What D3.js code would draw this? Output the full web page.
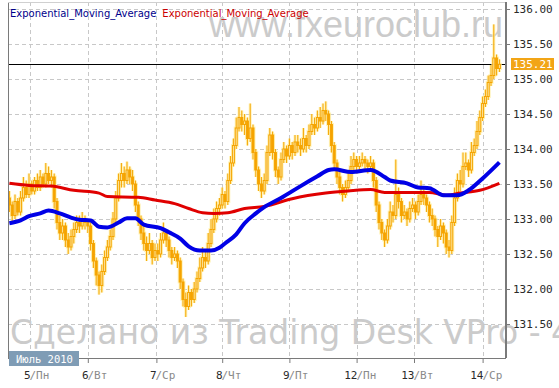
<!DOCTYPE html>
<html>
<head>
<meta charset="utf-8">
<script src="https://cdn.jsdelivr.net/npm/d3@7"></script>
<style>
  body { margin: 0; background: #fff; }
  svg { display: block; }
</style>
</head>
<body>
<svg id="chart" width="559" height="388"></svg>
<script>
// hourly candles, July 2010
const firstOpen = 133.30
const closes = [
  133.20, 133.05, 133.25, 133.10, 133.30, 133.45, 133.35, 133.50, 133.40, 133.55,
  133.45, 133.60, 133.50, 133.65, 133.55, 133.60, 133.25, 132.95, 132.80, 132.90,
  132.70, 132.60, 132.75, 132.85, 132.95, 132.90, 133.00, 132.95, 132.90, 132.65,
  132.40, 132.20, 132.05, 132.25, 132.45, 132.60, 132.75, 133.00, 133.30, 133.55,
  133.65, 133.55, 133.70, 133.60, 133.50, 133.20, 133.00, 132.80, 132.65, 132.55,
  132.65, 132.45, 132.55, 132.50, 132.70, 132.80, 132.70, 132.55, 132.45, 132.50,
  132.40, 132.10, 131.85, 131.75, 131.95, 131.85, 132.00, 132.15, 132.30, 132.45,
  132.40, 132.65, 132.85, 133.00, 133.15, 133.20, 133.35, 133.25, 133.55, 133.80,
  134.05, 134.30, 134.45, 134.35, 134.40, 134.15, 134.30, 133.95, 133.70, 133.50,
  133.40, 133.55, 133.95, 134.20, 133.95, 133.70, 133.60, 133.85, 134.00, 133.90,
  134.05, 133.95, 134.10, 134.05, 134.00, 134.15, 134.05, 134.25, 134.35, 134.30,
  134.45, 134.40, 134.55, 134.50, 134.35, 134.05, 133.80, 133.60, 133.45, 133.35,
  133.45, 133.55, 133.75, 133.85, 133.75, 133.80, 133.85, 133.80, 133.75, 133.80,
  133.55, 133.20, 132.95, 132.80, 132.70, 132.90, 133.10, 133.05, 133.35, 133.25,
  133.05, 133.10, 133.00, 133.15, 133.20, 133.10, 133.25, 133.35, 133.30, 133.20,
  133.05, 133.00, 132.85, 132.75, 132.90, 132.80, 132.60, 132.55, 132.95, 133.30,
  133.55, 133.50, 133.75, 133.80, 133.70, 133.95, 134.05, 134.25, 134.45, 134.65,
  134.75, 134.95, 135.05, 135.30, 135.15, 135.21
]
const highs = [
  133.40, 133.25, 133.35, 133.30, 133.40, 133.60, 133.55, 133.65, 133.55, 133.60,
  133.65, 133.70, 133.65, 133.80, 133.75, 133.70, 133.65, 133.30, 133.05, 133.00,
  132.95, 132.80, 132.85, 132.95, 133.05, 133.05, 133.10, 133.05, 133.00, 132.95,
  132.70, 132.45, 132.25, 132.35, 132.55, 132.70, 132.85, 133.10, 133.40, 133.65,
  133.80, 133.75, 133.82, 133.75, 133.70, 133.55, 133.25, 133.05, 132.90, 132.75,
  132.80, 132.70, 132.65, 132.65, 132.80, 132.95, 132.85, 132.75, 132.60, 132.60,
  132.55, 132.45, 132.15, 131.95, 132.05, 132.00, 132.10, 132.25, 132.45, 132.60,
  132.55, 132.80, 133.00, 133.15, 133.25, 133.30, 133.45, 133.40, 133.65, 133.90,
  134.15, 134.45, 134.60, 134.55, 134.50, 134.45, 134.65, 134.35, 134.00, 133.75,
  133.60, 133.65, 134.05, 134.30, 134.25, 134.00, 133.75, 133.95, 134.10, 134.05,
  134.15, 134.10, 134.20, 134.20, 134.15, 134.30, 134.20, 134.35, 134.50, 134.45,
  134.55, 134.60, 134.65, 134.68, 134.55, 134.40, 134.10, 133.85, 133.70, 133.50,
  133.55, 133.70, 133.90, 133.95, 133.90, 133.90, 133.95, 133.90, 133.85, 133.90,
  133.85, 133.60, 133.25, 133.00, 132.85, 133.00, 133.25, 133.20, 133.85, 133.45,
  133.30, 133.20, 133.15, 133.25, 133.30, 133.25, 133.35, 133.55, 133.45, 133.35,
  133.25, 133.15, 133.05, 132.90, 133.00, 132.95, 132.85, 132.70, 133.05, 133.45,
  133.65, 133.70, 133.95, 133.95, 133.85, 134.10, 134.15, 134.40, 134.55, 134.75,
  134.85, 135.05, 135.20, 135.78, 135.35, 135.28
]
const lows = [
  133.10, 132.95, 133.00, 133.05, 133.05, 133.25, 133.30, 133.30, 133.35, 133.35,
  133.40, 133.40, 133.45, 133.45, 133.50, 133.45, 133.15, 132.85, 132.70, 132.70,
  132.60, 132.50, 132.55, 132.65, 132.80, 132.80, 132.85, 132.85, 132.80, 132.55,
  132.30, 132.05, 131.92, 131.95, 132.20, 132.40, 132.55, 132.70, 132.95, 133.25,
  133.45, 133.45, 133.50, 133.50, 133.40, 133.10, 132.90, 132.70, 132.55, 132.40,
  132.50, 132.35, 132.40, 132.40, 132.45, 132.65, 132.60, 132.45, 132.35, 132.40,
  132.30, 132.00, 131.75, 131.60, 131.70, 131.75, 131.80, 131.95, 132.10, 132.25,
  132.30, 132.35, 132.60, 132.80, 132.95, 133.05, 133.15, 133.15, 133.20, 133.50,
  133.75, 134.00, 134.25, 134.25, 134.20, 134.05, 134.10, 133.85, 133.60, 133.40,
  133.30, 133.35, 133.50, 133.90, 133.85, 133.60, 133.50, 133.55, 133.80, 133.80,
  133.85, 133.85, 133.90, 133.95, 133.90, 133.95, 133.95, 134.00, 134.20, 134.20,
  134.25, 134.30, 134.35, 134.40, 134.20, 133.95, 133.70, 133.50, 133.35, 133.25,
  133.30, 133.40, 133.50, 133.70, 133.65, 133.70, 133.75, 133.70, 133.65, 133.70,
  133.45, 133.10, 132.85, 132.70, 132.60, 132.65, 132.85, 132.95, 133.00, 133.15,
  132.95, 133.00, 132.90, 132.95, 133.10, 133.00, 133.05, 133.20, 133.20, 133.10,
  132.95, 132.90, 132.75, 132.60, 132.70, 132.65, 132.50, 132.45, 132.50, 132.90,
  133.25, 133.40, 133.45, 133.70, 133.60, 133.65, 133.90, 134.00, 134.20, 134.40,
  134.60, 134.70, 134.90, 135.00, 135.05, 135.10
]

// EMA readings: [candle index, value]
const emaFast = [
  [0, 132.94], [4, 132.98], [7, 133.04], [11, 133.08], [14, 133.12], [18, 133.08],
  [22, 133.02], [25, 132.99], [29, 132.98], [32, 132.89], [35, 132.88], [39, 132.95],
  [42, 133.01], [45, 133.01], [48, 132.92], [54, 132.87], [57, 132.81], [61, 132.72],
  [64, 132.61], [68, 132.55], [72, 132.55], [75, 132.59], [77, 132.65], [81, 132.78],
  [84, 132.94], [88, 133.08], [91, 133.17], [97, 133.30], [104, 133.47], [110, 133.61],
  [114, 133.70], [116, 133.71], [122, 133.67], [129, 133.70], [134, 133.60], [136, 133.55],
  [142, 133.51], [146, 133.45], [150, 133.44], [155, 133.34], [160, 133.34], [164, 133.41],
  [169, 133.58], [175, 133.81]
]
const emaSlow = [
  [0, 133.51], [7, 133.48], [15, 133.47], [23, 133.41], [32, 133.37], [35, 133.32],
  [46, 133.31], [52, 133.27], [59, 133.22], [64, 133.15], [69, 133.09], [73, 133.08],
  [78, 133.09], [84, 133.15], [91, 133.18], [101, 133.29], [113, 133.37], [121, 133.40],
  [129, 133.42], [134, 133.38], [140, 133.38], [150, 133.38], [156, 133.34], [161, 133.37],
  [168, 133.41], [175, 133.51]
]

const lastPrice = 135.21
const yTicks = [131.5, 132, 132.5, 133, 133.5, 134, 134.5, 135, 135.5, 136]
const dayIndex = [8, 28.5, 53, 76.5, 100.5, 124.5, 145, 169.5]
const dayNums = ['5', '6', '7', '8', '9', '12', '13', '14']
const dayNames = ['Пн', 'Вт', 'Ср', 'Чт', 'Пт', 'Пн', 'Вт', 'Ср']
const monthLabel = 'Июль 2010'
const legendNames = ['Exponential_Moving_Average', 'Exponential_Moving_Average']
const legendColors = ['#00008b', '#cc0000']

const plot = { left: 8, top: 2, right: 505, bottom: 358 }
const candleColor = '#f5a400'
const haloColor = '#fff1a6'
const mono = '"DejaVu Sans Mono", monospace'

const svg = d3.select('#chart')

const x = d3.scaleLinear().domain([0, closes.length]).range([plot.left, 500.8])
const y = d3.scaleLinear().domain([131.5, 136]).range([324, 9])

const opens = closes.map((c, i) => i ? closes[i - 1] : firstOpen)
const candles = closes.map((c, i) => ({ i, o: opens[i], h: highs[i], l: lows[i], c }))

svg.append('defs').append('clipPath').attr('id', 'plot-clip')
  .append('rect')
  .attr('x', plot.left).attr('y', plot.top)
  .attr('width', plot.right - plot.left).attr('height', plot.bottom - plot.top)

// watermarks
svg.append('text')
  .attr('x', 503).attr('y', 37)
  .attr('text-anchor', 'end')
  .style('font', '36px "Liberation Sans", Arial, sans-serif')
  .attr('fill', '#cbcbcb')
  .text('www.fxeuroclub.ru')

svg.append('text')
  .attr('x', 10).attr('y', 344)
  .style('font', '33px "DejaVu Sans", sans-serif')
  .attr('fill', '#cbcbcb')
  .text('Сделано из Trading Desk VPro - 4.0')

// grid
const grid = svg.append('g')
  .attr('stroke', '#c8c8c8')
  .attr('stroke-dasharray', '4,3')
  .attr('shape-rendering', 'crispEdges')

grid.selectAll('line.h')
  .data(yTicks)
  .join('line')
  .attr('class', 'h')
  .attr('x1', plot.left).attr('x2', plot.right)
  .attr('y1', d => Math.round(y(d)) + 0.5).attr('y2', d => Math.round(y(d)) + 0.5)

grid.selectAll('line.v')
  .data(dayIndex)
  .join('line')
  .attr('class', 'v')
  .attr('y1', plot.top).attr('y2', plot.bottom)
  .attr('x1', d => Math.round(x(d)) + 0.5).attr('x2', d => Math.round(x(d)) + 0.5)

const plotArea = svg.append('g').attr('clip-path', 'url(#plot-clip)')

// last price line
plotArea.append('line')
  .attr('x1', plot.left).attr('x2', plot.right)
  .attr('y1', Math.round(y(lastPrice)) + 0.5).attr('y2', Math.round(y(lastPrice)) + 0.5)
  .attr('stroke', '#000')
  .attr('shape-rendering', 'crispEdges')

// candles: pale halo first, then the candle itself
const cx = d => x(d.i + 0.5)
const bodyTop = d => y(Math.max(d.o, d.c))
const bodyH = d => Math.max(1, Math.abs(y(d.o) - y(d.c)))

const halo = plotArea.append('g').attr('stroke', haloColor).attr('stroke-width', 3).attr('opacity', 0.8)
halo.selectAll('line')
  .data(candles)
  .join('line')
  .attr('x1', cx).attr('x2', cx)
  .attr('y1', d => y(d.h)).attr('y2', d => y(d.l))
halo.selectAll('rect')
  .data(candles)
  .join('rect')
  .attr('fill', 'none')
  .attr('x', d => cx(d) - 1).attr('width', 2)
  .attr('y', bodyTop).attr('height', bodyH)

const cg = plotArea.append('g').attr('stroke', candleColor)
cg.selectAll('line')
  .data(candles)
  .join('line')
  .attr('x1', cx).attr('x2', cx)
  .attr('y1', d => y(d.h)).attr('y2', d => y(d.l))
cg.selectAll('rect')
  .data(candles)
  .join('rect')
  .attr('x', d => cx(d) - 1).attr('width', 2)
  .attr('y', bodyTop).attr('height', bodyH)
  .attr('fill', d => d.c >= d.o ? '#fde6a0' : candleColor)

// moving averages
const line = d3.line()
  .x(d => x(d[0] + 0.5))
  .y(d => y(d[1]))
  .curve(d3.curveMonotoneX)

plotArea.append('path')
  .attr('d', line(emaSlow))
  .attr('fill', 'none')
  .attr('stroke', '#e00000')
  .attr('stroke-width', 3)

plotArea.append('path')
  .attr('d', line(emaFast))
  .attr('fill', 'none')
  .attr('stroke', '#0000e6')
  .attr('stroke-width', 4)

// frame
const frame = svg.append('g').attr('stroke', '#7a7a7a').attr('shape-rendering', 'crispEdges')
frame.append('line').attr('x1', plot.left + 0.5).attr('x2', plot.left + 0.5).attr('y1', plot.top).attr('y2', plot.bottom)
frame.append('line').attr('x1', plot.left).attr('x2', plot.right + 1).attr('y1', plot.bottom + 0.5).attr('y2', plot.bottom + 0.5)
frame.append('line').attr('x1', plot.right + 0.5).attr('x2', plot.right + 0.5).attr('y1', plot.top).attr('y2', plot.bottom)
  .attr('stroke-width', 2)
frame.append('line').attr('x1', plot.left).attr('x2', plot.right).attr('y1', plot.top + 0.5).attr('y2', plot.top + 0.5)
  .attr('stroke', '#d0d0d0')

// right axis
const yAxis = svg.append('g')
  .attr('transform', `translate(${plot.right + 1},0)`)
  .call(d3.axisRight(y).tickValues(yTicks).tickSize(4).tickPadding(3).tickFormat(d3.format('.2f')))
yAxis.select('.domain').remove()
yAxis.selectAll('.tick line').attr('stroke', '#7a7a7a')
yAxis.selectAll('.tick text')
  .attr('fill', '#2a2a2a')
  .style('font', `11px ${mono}`)

// last price tag
const tagY = y(lastPrice)
svg.append('rect')
  .attr('x', 511).attr('y', Math.round(tagY) - 6)
  .attr('width', 43).attr('height', 12)
  .attr('fill', '#f2a516')
svg.append('text')
  .attr('x', 513).attr('y', tagY)
  .attr('dy', '0.35em')
  .attr('fill', '#fff')
  .style('font', `11px ${mono}`)
  .text(d3.format('.2f')(lastPrice))

// bottom axis
const xAxis = svg.append('g')
  .attr('transform', `translate(0,${plot.bottom + 1})`)
  .call(d3.axisBottom(x).tickValues(dayIndex).tickSize(4).tickFormat(''))
xAxis.select('.domain').remove()
xAxis.selectAll('.tick line').attr('stroke', '#7a7a7a')

const dayLabels = svg.append('g').style('font', `11px ${mono}`)
dayIndex.forEach((d, k) => {
  const tx = Math.round(x(d))
  dayLabels.append('text')
    .attr('x', tx + 0.5).attr('y', 379)
    .attr('text-anchor', 'end')
    .attr('fill', '#2a2a2a')
    .text(dayNums[k])
  dayLabels.append('text')
    .attr('x', tx - 0.5).attr('y', 379)
    .attr('fill', '#8a8a8a')
    .text('/' + dayNames[k])
})

// month tag
svg.append('rect')
  .attr('x', 9).attr('y', 351)
  .attr('width', 70).attr('height', 15)
  .attr('fill', '#7f9cb5')
svg.append('text')
  .attr('x', 16).attr('y', 363)
  .attr('fill', '#fff')
  .style('font', `10.5px ${mono}`)
  .text(monthLabel)

// legend
let lx = 10
legendNames.forEach((name, k) => {
  const t = svg.append('text')
    .attr('x', lx).attr('y', 17)
    .attr('fill', legendColors[k])
    .style('font', '10px "DejaVu Sans", sans-serif')
    .text(name)
  lx += t.node().getComputedTextLength() + 6
})
</script>
</body>
</html>
